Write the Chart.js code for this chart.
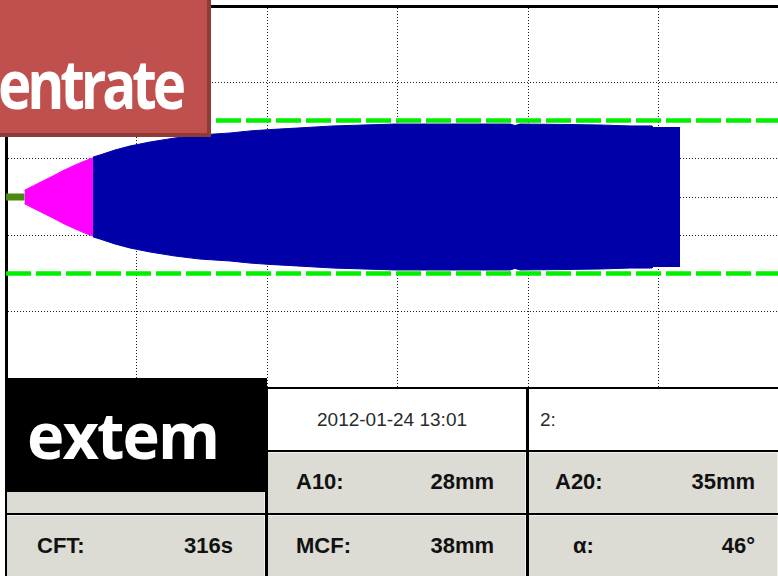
<!DOCTYPE html>
<html>
<head>
<meta charset="utf-8">
<title>EXTEM</title>
<script src="https://cdn.jsdelivr.net/npm/chart.js@4/dist/chart.umd.min.js"></script>
<style>
  html, body { margin: 0; padding: 0; background: #fff; overflow: hidden; }
  #stage { position: relative; width: 778px; height: 576px; overflow: hidden; background: #fff; }
  #plot { position: absolute; left: 0; top: 0; width: 778px; height: 388px; }
  #plot canvas { display: block; }
  .blk { position: absolute; background: #000; }
  .cell { position: absolute; box-sizing: border-box; }
  .white { background: #fff; }
  .grey { background: #dcdbd4; border-top: 1px solid #f3f2ee; border-right: 1px solid #f3f2ee; }
  .txt { position: absolute; white-space: nowrap; line-height: 1; color: #1a1a1a;
         font-family: "Liberation Sans", Arial, sans-serif; }
  .reg { font-size: 19px; font-weight: 400; color: #2a2a2a; }
  .bold { font-size: 22px; font-weight: 700; color: #111; }
  .big { position: absolute; white-space: nowrap; line-height: 1; color: #fff;
         font-family: "Open Sans", "Noto Sans", sans-serif; font-weight: 700; transform-origin: 0 0; }
  #tag-red { position: absolute; left: -10px; top: -10px; width: 217px; height: 143px;
             background: #c0504d; box-shadow: 4px 4px 0 #8f3b38; overflow: hidden; }
  #tag-black { position: absolute; left: 5px; top: 378px; width: 262px; height: 114px; background: #000; }
</style>
</head>
<body>
<div id="stage">
  <div id="plot"><canvas id="trace" width="778" height="388"></canvas></div>

  <!-- result table -->
  <div class="blk" style="left:5px; top:387px; width:773px; height:189px;"></div>
  <div class="cell white" style="left:7px;   top:389px; width:258px; height:61px;"></div>
  <div class="cell white" style="left:268px; top:389px; width:258px; height:61px;"></div>
  <div class="cell white" style="left:529px; top:389px; width:249px; height:61px;"></div>
  <div class="cell grey"  style="left:7px;   top:452px; width:258px; height:61px;"></div>
  <div class="cell grey"  style="left:268px; top:452px; width:258px; height:61px;"></div>
  <div class="cell grey"  style="left:529px; top:452px; width:249px; height:61px;"></div>
  <div class="cell grey"  style="left:7px;   top:515px; width:258px; height:61px;"></div>
  <div class="cell grey"  style="left:268px; top:515px; width:258px; height:61px;"></div>
  <div class="cell grey"  style="left:529px; top:515px; width:249px; height:61px;"></div>

  <div id="table-text"></div>

  <div id="tag-red"><span class="big" id="tag-red-text">entrate</span></div>
  <div id="tag-black"><span class="big" id="tag-black-text">extem</span></div>
</div>

<script>
// Clot amplitude (total width, mm) against run time (s)
const ctTime = 85;                                  // clotting time, end of the flat baseline
const cftTimes = [85, 124, 170, 216, 262, 308, 354, 400];
const cftAmp   = [3.5, 5.8, 8.4, 11.0, 13.8, 16.2, 18.5, 20.5];
const mainTimes = [400, 432, 501, 570, 662, 777, 892, 1030, 1122, 1214, 1338, 1504,
                   1789, 2042, 2317, 2340, 2363, 2547, 2731, 2869, 2970, 2975, 3099];
const mainAmp   = [20.9, 22.0, 24.6, 26.7, 28.8, 30.9, 32.5, 33.5, 34.6, 35.3, 36.1, 37.2,
                   38.2, 38.2, 38.2, 37.4, 38.2, 38.0, 37.7, 37.2, 37.2, 36.4, 36.4];
const refAmp = 40;                                  // reference amplitude band (dashed)
const timeMax = 3549;
const gridTimes = [0, 600, 1200, 1800, 2400, 3000]; // 10 min divisions
const gridLevels = [-30, -10, 0, 10, 30];           // mm from the centre line

// Result table
const dateText = "2012-01-24 13:01";
const channelText = "2:";
const paramNames  = ["CFT:", "A10:", "A20:", "MCF:", "\u03b1:"];
const paramValues = ["316s", "28mm", "35mm", "38mm", "46\u00b0"];

const upper = (ts, as) => ts.map((t, i) => ({ x: t, y: as[i] / 2 }));
const lower = (ts, as) => ts.map((t, i) => ({ x: t, y: -as[i] / 2 }));

const gridStyle = { color: '#1e1e1e', lineWidth: 1, drawTicks: false };
const borderStyle = { display: true, color: '#000', width: 3, dash: [1, 2] };

new Chart(document.getElementById('trace'), {
  type: 'line',
  data: {
    datasets: [
      { data: [{ x: 0, y: refAmp / 2 }, { x: timeMax, y: refAmp / 2 }],
        borderColor: '#00f000', borderWidth: 4.5, borderDash: [25, 5], fill: false },
      { data: [{ x: 0, y: -refAmp / 2 }, { x: timeMax, y: -refAmp / 2 }],
        borderColor: '#00f000', borderWidth: 4.5, borderDash: [25, 5], fill: false },
      { data: [{ x: 0, y: 0 }, { x: ctTime, y: 0 }],
        borderColor: '#4a8a12', borderWidth: 7, fill: false },
      { data: upper(cftTimes, cftAmp), borderColor: '#ff00ff', backgroundColor: '#ff00ff',
        borderWidth: 1, fill: '+1' },
      { data: lower(cftTimes, cftAmp), borderColor: '#ff00ff', borderWidth: 1, fill: false },
      { data: upper(mainTimes, mainAmp), borderColor: '#0000a8', backgroundColor: '#0000a8',
        borderWidth: 1, fill: '+1' },
      { data: lower(mainTimes, mainAmp), borderColor: '#0000a8', borderWidth: 1, fill: false }
    ]
  },
  options: {
    responsive: false,
    animation: false,
    devicePixelRatio: 1,
    events: [],
    layout: { padding: { left: 6, top: 6, right: 0, bottom: 0 } },
    elements: { point: { radius: 0 }, line: { tension: 0 } },
    plugins: { legend: { display: false }, tooltip: { enabled: false } },
    scales: {
      x: {
        type: 'linear', position: 'top', min: 0, max: timeMax,
        afterBuildTicks: s => { s.ticks = gridTimes.map(v => ({ value: v })); },
        ticks: { display: false },
        grid: gridStyle,
        border: borderStyle
      },
      y: {
        type: 'linear', min: -50, max: 50,
        afterBuildTicks: s => { s.ticks = gridLevels.map(v => ({ value: v })); },
        ticks: { display: false },
        grid: gridStyle,
        border: borderStyle
      }
    }
  }
});

// table text placed by left edge or right edge, on a given baseline
const tt = document.getElementById('table-text');
function put(text, cls, left, rightEdge, baseline, size) {
  const s = document.createElement('span');
  s.className = 'txt ' + cls;
  s.textContent = text;
  s.style.top = (baseline - 0.8465 * size) + 'px';
  if (left !== null) s.style.left = left + 'px';
  else s.style.right = (778 - rightEdge) + 'px';
  tt.appendChild(s);
}
put(dateText, 'reg', 317, null, 426, 19);
put(channelText, 'reg', 540, null, 426, 19);
const nameX  = [37, 296, 555, 296, 573];
const valueR = [233, 494, 755, 494, 755];
const rowY   = [554, 490, 490, 554, 554];
paramNames.forEach((n, i) => {
  put(n, 'bold', nameX[i], null, rowY[i], 22);
  put(paramValues[i], 'bold', null, valueR[i], rowY[i], 22);
});

// large white captions, fitted to their width
function caption(id, size, spacing, left, rightEdge, baseline, parentLeft, parentTop) {
  const el = document.getElementById(id);
  el.style.fontSize = size + 'px';
  el.style.letterSpacing = spacing + 'px';
  const w = el.getBoundingClientRect().width - spacing;
  const sx = (rightEdge - left) / w;
  el.style.left = (left - parentLeft) + 'px';
  el.style.top = (baseline - 0.888 * size - parentTop) + 'px';
  el.style.transform = 'scaleX(' + sx.toFixed(3) + ')';
}
caption('tag-red-text', 68, -5, -2, 186, 109, -10, -10);
caption('tag-black-text', 65, -2, 27, 220, 460, 5, 378);
</script>
</body>
</html>
